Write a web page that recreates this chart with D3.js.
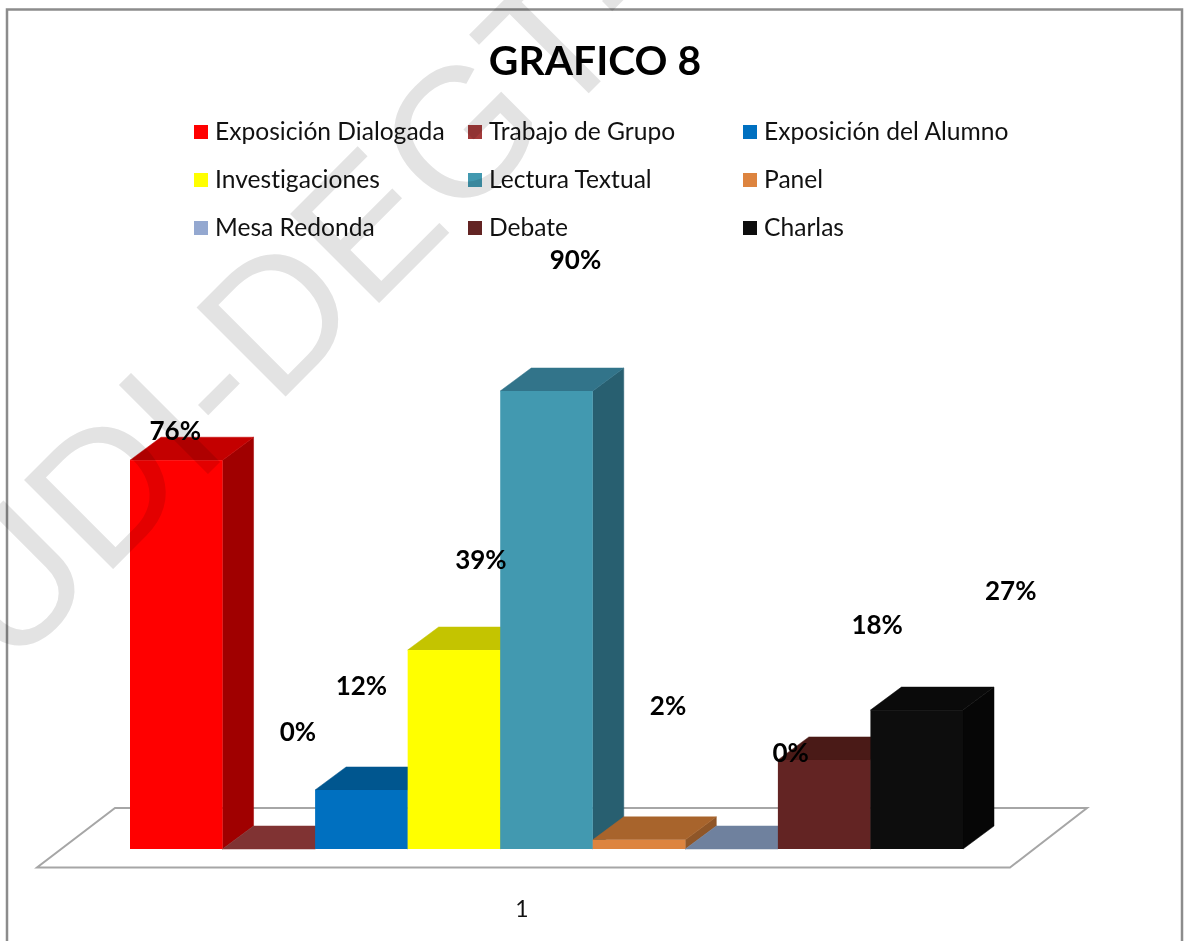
<!DOCTYPE html>
<html>
<head>
<meta charset="utf-8">
<script src="https://cdn.jsdelivr.net/npm/d3@7"></script>
<style>
body { margin: 0; background: #fff; }
svg { display: block; filter: blur(0.45px); }
text { font-family: Lato, "Noto Sans", sans-serif; font-variant-ligatures: none; }
</style>
</head>
<body>
<div id="chart"></div>
<script>
var categories = ["Exposición Dialogada", "Trabajo de Grupo", "Exposición del Alumno", "Investigaciones", "Lectura Textual", "Panel", "Mesa Redonda", "Debate", "Charlas"];
var values = [76.4, 0, 11.6, 39.1, 90, 1.8, 0, 17.5, 27.3];
var labels = ["76%", "0%", "12%", "39%", "90%", "2%", "0%", "18%", "27%"];
var colors = ["#ff0000", "#a33a3a", "#0070c0", "#ffff00", "#4299b0", "#dd843f", "#94a8d0", "#632423", "#0d0d0d"];
var sideColors = ["#a00000", "#6e2f2f", "#004f8c", "#c4c400", "#285f70", "#8f5628", "#6b7e9c", "#3f1614", "#060606"];
var topColors = ["#c40000", "#803333", "#00568f", "#c4c400", "#32748a", "#a8642c", "#6f819e", "#4a1a17", "#0a0a0a"];
var title = "GRAFICO 8";
var axisLabel = "1";
var watermark = "UDI-DEGT";

var width = 1186, height = 941;
var depthX = 31, depthY = -23;

var svg = d3.select("#chart").append("svg").attr("width", width).attr("height", height);

var x = d3.scaleBand().domain(categories).range([130, 963]).padding(0);
var y = d3.scaleLinear().domain([0, 90]).range([849, 391]);

// frame
svg.append("rect").attr("x", 7).attr("y", 9.5).attr("width", 1175).attr("height", 960)
    .attr("fill", "none").attr("stroke", "#8c8c8c").attr("stroke-width", 2.5);

// floor
svg.append("path")
    .attr("d", "M37,867.5H1010L1087,808H115Z")
    .attr("fill", "#fff").attr("stroke", "#a6a6a6").attr("stroke-width", 2);

function barFaces(g, i) {
    var x0 = x(categories[i]), x1 = x0 + x.bandwidth();
    var y0 = y(0), y1 = y(values[i]);
    var h = y0 - y1;
    if (h > 0) {
        g.append("path")
            .attr("d", d3.line()([[x1, y1], [x1 + depthX, y1 + depthY], [x1 + depthX, y0 + depthY], [x1, y0]]) + "Z")
            .attr("fill", sideColors[i]).attr("stroke", sideColors[i]).attr("stroke-width", 0.5);
    }
    g.append("path")
        .attr("d", d3.line()([[x0, y1], [x0 + depthX, y1 + depthY], [x1 + depthX, y1 + depthY], [x1, y1]]) + "Z")
        .attr("fill", topColors[i]).attr("stroke", topColors[i]).attr("stroke-width", 0.5);
    if (h > 0) {
        g.append("rect").attr("x", x0).attr("y", y1).attr("width", x.bandwidth()).attr("height", h).attr("fill", colors[i]);
    }
}

var bars = svg.append("g");
categories.forEach(function (c, i) {
    barFaces(bars.append("g"), i);
});

// legend, three columns
var legendCol = d3.scaleOrdinal().domain([0, 1, 2]).range([194, 468, 743]);
var legendRow = d3.scaleOrdinal().domain([0, 1, 2]).range([132, 180, 228]);
var legend = svg.append("g");
categories.forEach(function (c, i) {
    var lx = legendCol(i % 3), ly = legendRow(Math.floor(i / 3));
    legend.append("rect").attr("x", lx).attr("y", ly - 7).attr("width", 14).attr("height", 14).attr("fill", colors[i]);
});

// watermark lies over the marks, darkening them
var mark = svg.append("text")
    .attr("transform", "translate(9,673) rotate(-45)")
    .attr("font-size", 183)
    .attr("fill", "#e3e3e3")
    .style("font-family", "'Liberation Sans'")
    .style("mix-blend-mode", "multiply")
    .text(watermark);
mark.append("tspan").attr("dx", 12).text("-");

// title
svg.append("text").attr("x", 595).attr("y", 75).attr("text-anchor", "middle")
    .attr("font-size", 40.8).attr("font-weight", 700).attr("fill", "#000").text(title);

categories.forEach(function (c, i) {
    var lx = legendCol(i % 3), ly = legendRow(Math.floor(i / 3));
    svg.append("text").attr("x", lx + 21).attr("y", ly + 8).attr("font-size", 24.6).attr("fill", "#111").text(c);
});

// data labels sit off the bars the way the original placed them
var labelShift = [[-1, -28], [29, -116], [0, -103], [27, -89], [29, -130], [29, -133], [59, -95], [53, -134], [94, -118]];
svg.append("g").selectAll("text").data(labels).enter().append("text")
    .attr("x", function (d, i) { return x(categories[i]) + x.bandwidth() / 2 + labelShift[i][0]; })
    .attr("y", function (d, i) { return y(values[i]) + labelShift[i][1] + 8; })
    .attr("text-anchor", "middle").attr("font-size", 26).attr("font-weight", 700).attr("fill", "#000")
    .text(function (d) { return d; });

svg.append("text").attr("x", 522).attr("y", 917).attr("text-anchor", "middle").attr("font-size", 23).attr("fill", "#111").text(axisLabel);
</script>
</body>
</html>
